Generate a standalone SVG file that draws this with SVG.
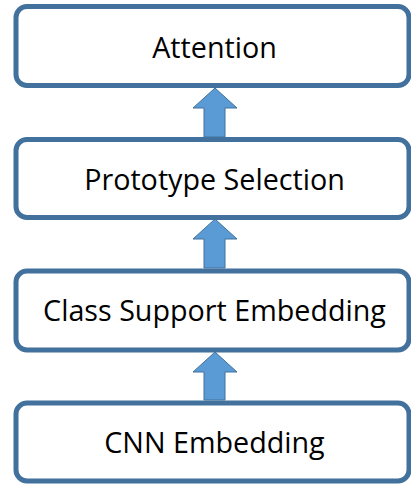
<svg xmlns="http://www.w3.org/2000/svg" width="411" height="485" viewBox="0 0 411 485">
<style>
.box{fill:#fff;stroke:#41719C;stroke-width:5}
.lbl{font-family:"Open Sans","Noto Sans",sans-serif;font-size:28.7px;fill:#000;text-anchor:middle}
.arr{fill:#5B9BD5;stroke:#41719C;stroke-width:1}
</style>
<g id="connectors">
<path class="arr" d="M215,88 L237,108 L225,108 L225,137 L204,137 L204,108 L193,108 Z"/>
<path class="arr" d="M215,219 L237,239 L225,239 L225,268 L204,268 L204,239 L193,239 Z"/>
<path class="arr" d="M215,352 L237,372 L225,372 L225,400 L204,400 L204,372 L193,372 Z"/>
</g>
<g id="attention"><rect class="box" x="16" y="6.5" width="393" height="79" rx="11"/><text class="lbl" x="214.5" y="58">Attention</text></g>
<g id="prototype"><rect class="box" x="16" y="139.5" width="393" height="78" rx="11"/><text class="lbl" x="214.5" y="190">Prototype Selection</text></g>
<g id="classsupport"><rect class="box" x="16" y="271" width="393" height="79" rx="11"/><text class="lbl" x="214.5" y="321">Class Support Embedding</text></g>
<g id="cnn"><rect class="box" x="16" y="403" width="393" height="78" rx="11"/><text class="lbl" x="214.5" y="452.5">CNN Embedding</text></g>
</svg>
